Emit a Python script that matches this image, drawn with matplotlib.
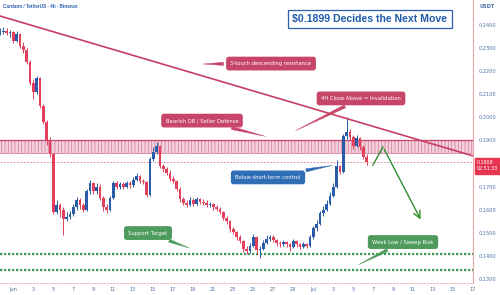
import matplotlib
matplotlib.use("Agg")
import matplotlib.pyplot as plt
import numpy as np

# 8h candles, x in days since Jun 1
closes = [0.2370, 0.2375, 0.2365, 0.2370, 0.2330, 0.2360, 0.2310, 0.2290, 0.2240, 0.2150,
          0.2110, 0.2170, 0.2050, 0.1980, 0.1900, 0.1840, 0.1590, 0.1620, 0.1600, 0.1560,
          0.1570, 0.1580, 0.1610, 0.1640, 0.1620, 0.1600, 0.1680, 0.1715, 0.1680, 0.1700,
          0.1650, 0.1610, 0.1600, 0.1650, 0.1715, 0.1700, 0.1710, 0.1700, 0.1715, 0.1705,
          0.1730, 0.1745, 0.1725, 0.1720, 0.1665, 0.1820, 0.1850, 0.1875, 0.1790, 0.1775,
          0.1760, 0.1735, 0.1725, 0.1690, 0.1645, 0.1630, 0.1620, 0.1640, 0.1625, 0.1645,
          0.1635, 0.1630, 0.1620, 0.1625, 0.1610, 0.1605, 0.1590, 0.1565, 0.1550, 0.1515,
          0.1505, 0.1480, 0.1465, 0.1430, 0.1420, 0.1445, 0.1480, 0.1425, 0.1430, 0.1455,
          0.1475, 0.1480, 0.1470, 0.1455, 0.1450, 0.1460, 0.1450, 0.1440, 0.1465, 0.1450,
          0.1440, 0.1450, 0.1445, 0.1480, 0.1520, 0.1540, 0.1585, 0.1600, 0.1625, 0.1660,
          0.1700, 0.1790, 0.1765, 0.1920, 0.1935, 0.1915, 0.1875, 0.1910, 0.1870, 0.1830,
          0.1808]
highs = [0.2385, 0.2390, 0.2385, 0.2380, 0.2375, 0.2375, 0.2365, 0.2325, 0.2300, 0.2250,
         0.2165, 0.2180, 0.2175, 0.2060, 0.1990, 0.1915, 0.1845, 0.1640, 0.1630, 0.1610,
         0.1590, 0.1595, 0.1625, 0.1655, 0.1650, 0.1630, 0.1690, 0.1730, 0.1720, 0.1715,
         0.1710, 0.1660, 0.1625, 0.1660, 0.1725, 0.1725, 0.1720, 0.1720, 0.1725, 0.1725,
         0.1740, 0.1760, 0.1750, 0.1735, 0.1725, 0.1830, 0.1870, 0.1895, 0.1880, 0.1800,
         0.1785, 0.1770, 0.1745, 0.1730, 0.1700, 0.1655, 0.1640, 0.1655, 0.1650, 0.1655,
         0.1650, 0.1645, 0.1640, 0.1635, 0.1630, 0.1620, 0.1610, 0.1595, 0.1575, 0.1555,
         0.1525, 0.1510, 0.1490, 0.1470, 0.1445, 0.1455, 0.1495, 0.1485, 0.1445, 0.1470,
         0.1490, 0.1490, 0.1490, 0.1475, 0.1465, 0.1470, 0.1465, 0.1455, 0.1475, 0.1470,
         0.1455, 0.1460, 0.1455, 0.1490, 0.1530, 0.1555, 0.1595, 0.1615, 0.1640, 0.1675,
         0.1715, 0.1815, 0.1795, 0.1930, 0.2000, 0.1950, 0.1925, 0.1925, 0.1915, 0.1880,
         0.1840]
lows = [0.2355, 0.2360, 0.2355, 0.2350, 0.2320, 0.2325, 0.2300, 0.2280, 0.2230, 0.2140,
        0.2080, 0.2100, 0.2040, 0.1970, 0.1880, 0.1830, 0.1580, 0.1580, 0.1570, 0.1490,
        0.1550, 0.1560, 0.1575, 0.1600, 0.1605, 0.1590, 0.1595, 0.1670, 0.1670, 0.1670,
        0.1640, 0.1595, 0.1585, 0.1595, 0.1645, 0.1690, 0.1690, 0.1690, 0.1695, 0.1695,
        0.1700, 0.1725, 0.1715, 0.1710, 0.1655, 0.1660, 0.1810, 0.1840, 0.1780, 0.1765,
        0.1750, 0.1725, 0.1715, 0.1680, 0.1635, 0.1620, 0.1610, 0.1615, 0.1615, 0.1620,
        0.1625, 0.1620, 0.1610, 0.1610, 0.1600, 0.1595, 0.1580, 0.1555, 0.1540, 0.1505,
        0.1495, 0.1470, 0.1455, 0.1415, 0.1410, 0.1412, 0.1440, 0.1410, 0.1390, 0.1425,
        0.1450, 0.1465, 0.1460, 0.1445, 0.1440, 0.1445, 0.1440, 0.1420, 0.1435, 0.1440,
        0.1430, 0.1435, 0.1435, 0.1440, 0.1475, 0.1510, 0.1535, 0.1575, 0.1595, 0.1620,
        0.1655, 0.1695, 0.1755, 0.1760, 0.1905, 0.1900, 0.1865, 0.1870, 0.1860, 0.1820,
        0.1795]
first_open = 0.2365
start_day = -1.3

res_line = [(-1.3, 0.2439), (46.0, 0.1833)]   # descending resistance
zone_top, zone_bottom = 0.1900, 0.1845
support_target = 0.1408
week_low = 0.1339
last_price = 0.1808
path_days = [36.0, 37.0, 40.9]
path_prices = [0.1794, 0.1872, 0.1547]

xtick_days = list(range(0, 29, 2)) + list(range(30, 47, 2))
xtick_labels = ['Jun', '3', '5', '7', '9', '11', '13', '15', '17', '19', '21', '23', '25',
                '27', '29', 'Jul', '3', '5', '7', '9', '11', '13', '15', '17']
# 0.1800 sits under the price tag
ytick_vals = [0.13, 0.14, 0.15, 0.16, 0.17, 0.19, 0.20, 0.21, 0.22, 0.23, 0.24]

UP = '#2a5caa'
DOWN = '#e4405e'
RED = '#c8456a'
BLUE_TXT = '#4a6fa5'
GREEN = '#3a9a52'

plt.rcParams['hatch.linewidth'] = 0.6
fig = plt.figure(figsize=(5, 2.95), dpi=100)
ax = fig.add_axes([0, 12 / 295, 473 / 500, 283 / 295])
ax.set_xlim(-1.3, 46.0)
ax.set_ylim(0.12827, 0.25083)

# candles
opens = [first_open] + closes[:-1]
xs = start_day + np.arange(len(closes)) / 3
for x, o, c, h, l in zip(xs, opens, closes, highs, lows):
    col = UP if c >= o else DOWN
    ax.vlines(x, l, h, color=col, lw=0.7, zorder=3)
    ax.bar(x, abs(c - o) or 0.0003, bottom=min(o, c), width=0.26, color=col, lw=0, zorder=3)

# resistance zone
ax.axhspan(zone_bottom, zone_top, facecolor='#f3d3df', edgecolor='#d8809e', hatch='|||||', lw=0, zorder=1)
ax.axhline(zone_top, color=RED, lw=0.9, zorder=2)
ax.axhline(zone_bottom, color='#d8809e', lw=0.6, zorder=2)

# descending line
ax.plot([p[0] for p in res_line], [p[1] for p in res_line], color='#c83e62', lw=1.2, zorder=4)

# current price line
ax.axhline(last_price, color='#e07890', lw=0.6, ls=(0, (2, 2)), zorder=2)

# support lines
for lvl in (support_target, week_low):
    ax.axhline(lvl, color=GREEN, lw=1.6, ls=(0, (1, 0.8)), zorder=2)

# projected path
ax.plot(path_days[:2], path_prices[:2], color='#2f8f2f', lw=1.0, zorder=5)
ax.annotate('', xy=(path_days[2], path_prices[2]), xytext=(path_days[1], path_prices[1]),
            arrowprops=dict(arrowstyle='->,head_width=0.25,head_length=0.5', color='#2f8f2f', lw=1.0),
            zorder=5)

# callout labels
callouts = [
    ('3-touch descending resistance', (25.8, 0.2233), (18.7, 0.2231), RED),
    ('4H Close Above = Invalidation', (34.8, 0.2082), (28.0, 0.1937), RED),
    ('Bearish OB / Seller Defense', (18.9, 0.1986), (25.5, 0.1915), RED),
    ('Below short-term control', (25.5, 0.1740), (32.2, 0.1794), '#2f6db5'),
    ('Support Target', (13.5, 0.1499), (17.9, 0.1430), '#4f9a5e'),
    ('Week Low / Sweep Risk', (39.0, 0.1460), (34.3, 0.1356), '#4f9a5e'),
]
for txt, pos, tip, col in callouts:
    ax.annotate(txt, xy=tip, xytext=pos, ha='center', va='center', fontsize=3.8, color='white',
                bbox=dict(boxstyle='round,pad=0.7,rounding_size=0.4', fc=col, ec=col),
                arrowprops=dict(arrowstyle='wedge,tail_width=0.6', fc=col, ec=col, lw=0.3),
                zorder=6)

# axes styling
for s in ('top', 'left'):
    ax.spines[s].set_visible(False)
ax.spines['right'].set_color('#f2a4ac')
ax.spines['right'].set_linewidth(0.8)
ax.spines['bottom'].set_color('#f0b0b8')
ax.spines['bottom'].set_linestyle((0, (2, 2)))
ax.spines['bottom'].set_linewidth(0.6)
ax.yaxis.tick_right()
ax.set_yticks(ytick_vals)
ax.set_yticklabels(['%.4f' % v for v in ytick_vals])
ax.set_xticks(xtick_days)
ax.set_xticklabels(xtick_labels)
ax.tick_params(axis='both', length=0, labelsize=3.6, labelcolor=BLUE_TXT)
ax.tick_params(axis='y', pad=4)
ax.tick_params(axis='x', pad=3)

# price tag
ax.annotate('0.1808\n02:51:33', xy=(1.0, last_price), xycoords=('axes fraction', 'data'),
            xytext=(3, -3), textcoords='offset points', ha='left', va='center',
            fontsize=3.4, color='white', linespacing=1.3,
            bbox=dict(boxstyle='square,pad=0.5', fc='#e8354f', ec='#e8354f'),
            annotation_clip=False, zorder=7)

fig.text(473 / 500 + 0.012, 1 - 7 / 295, 'USDT', fontsize=3.6, color=BLUE_TXT, va='center', weight='bold')
fig.text(0.006, 1 - 6 / 295, 'Cardano / TetherUS · 4h · Binance', fontsize=3.3, color='#2e5fb0',
         va='center', weight='bold', family=['Liberation Sans', 'DejaVu Sans'])
fig.text(370 / 500, 1 - 19 / 295, '$0.1899 Decides the Next Move', fontsize=7.6, color='#1e5aa8',
         ha='center', va='center', weight='bold', family=['Liberation Sans', 'DejaVu Sans'],
         bbox=dict(boxstyle='square,pad=0.4', fc='white', ec='#2e5fb0', lw=0.9))

fig.savefig('out.png', dpi=100, facecolor='white')
